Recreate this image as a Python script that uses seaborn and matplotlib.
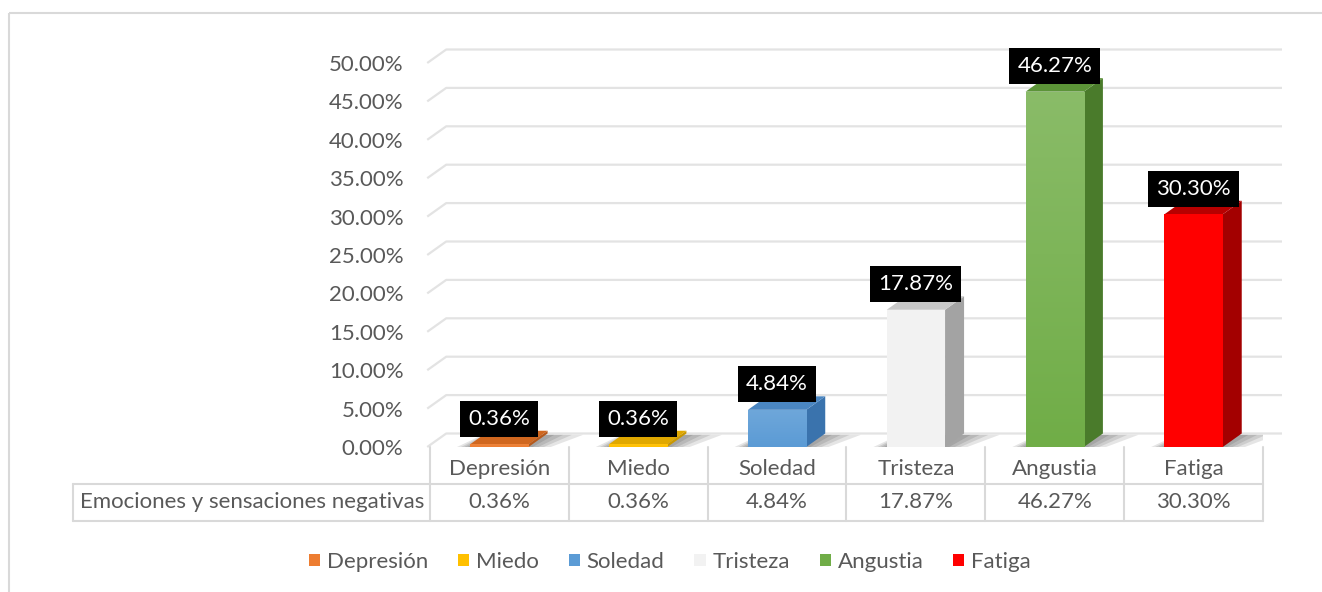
import numpy as np
import pandas as pd
import matplotlib
matplotlib.use('Agg')
import matplotlib.pyplot as plt
import matplotlib.transforms as mtransforms
from matplotlib.patches import Polygon, Rectangle, Patch
from matplotlib.colors import LinearSegmentedColormap, to_rgb
import seaborn as sns

# data
categories = ['Depresión', 'Miedo', 'Soledad', 'Tristeza', 'Angustia', 'Fatiga']
values = [0.36, 0.36, 4.84, 17.87, 46.27, 30.30]
row_label = 'Emociones y sensaciones negativas'
yticks = [0, 5, 10, 15, 20, 25, 30, 35, 40, 45, 50]

front_colors = ['#ED7D31', '#FFC000', '#5B9BD5', '#F2F2F2', '#70AD47', '#FF0000']
side_colors = ['#B5591C', '#C99700', '#3A73AD', '#A3A3A3', '#4A7B2B', '#A30000']
top_colors = ['#D0671F', '#E0A800', '#4A86C2', '#C8C8C8', '#5C9438', '#B80000']
grad_amount = [0.05, 0.05, 0.12, 0.0, 0.18, 0.0]

sns.set_theme(style='white')
plt.rcParams['font.family'] = ['Lato', 'DejaVu Sans']
text_color = '#595959'
grid_color = '#D9D9D9'
fs = 16

W, H = 1322, 592
fig = plt.figure(figsize=(W / 100, H / 100), dpi=100)
bg = fig.add_axes([0, 0, 1, 1], zorder=0)
bg.set_xlim(0, W)
bg.set_ylim(H, 0)
bg.axis('off')
bg.add_patch(Rectangle((9, 13), W, H, fill=False, ec=grid_color, lw=1.5))

ax_l, ax_r, ax_t, ax_b = 430, 1263, 63, 447
ax = fig.add_axes([ax_l / W, 1 - ax_b / H, (ax_r - ax_l) / W, (ax_b - ax_t) / H], zorder=1)
ax.patch.set_alpha(0)

df = pd.DataFrame({'cat': categories, 'val': values})
sns.barplot(data=df, x='cat', y='val', hue='cat', palette=front_colors, width=0.42,
            saturation=1, legend=False, ax=ax, zorder=4, edgecolor='none')

# 3d depth in data units
dx = 19 / ((ax_r - ax_l) / 6)
dy = 13.5 / ((ax_b - ax_t) / 50)
x_start = -0.5 - 0.02

for v in yticks:
    ax.plot([x_start, x_start + dx, 5.5 + dx], [v, v + dy, v + dy],
            color='#E3E3E3', lw=1.6, zorder=1, clip_on=False, solid_capstyle='butt')

for i, p in enumerate(ax.patches):
    x0 = p.get_x()
    x1 = x0 + p.get_width()
    v = p.get_height()
    # soft floor shadow
    for e in [0.16, 0.11, 0.07, 0.03]:
        ax.add_patch(Polygon([(x0 - e * 0.6, 0), (x1 + e, 0), (x1 + dx + e * 1.6, dy * 0.9),
                              (x0 + dx - e * 0.3, dy * 0.9)], closed=True,
                             fc='black', ec='none', alpha=0.10, zorder=2))
    # side face
    ax.add_patch(Polygon([(x1, 0), (x1 + dx, dy), (x1 + dx, v + dy), (x1, v)], closed=True,
                         fc=side_colors[i], ec='none', zorder=3, clip_on=False))
    # top face
    ax.add_patch(Polygon([(x0, v), (x0 + dx, v + dy), (x1 + dx, v + dy), (x1, v)], closed=True,
                         fc=top_colors[i], ec='none', zorder=3, clip_on=False))
    # front gradient
    if grad_amount[i] > 0:
        base = np.array(to_rgb(front_colors[i]))
        light = base + (1 - base) * grad_amount[i]
        cmap = LinearSegmentedColormap.from_list('g%d' % i, [base, light])
        im = ax.imshow(np.linspace(0, 1, 256).reshape(-1, 1), extent=[x0, x1, 0, v], origin='lower',
                       cmap=cmap, aspect='auto', zorder=5)
        im.set_clip_path(p)
    ax.annotate('{:.2f}%'.format(v), xy=(x0 + p.get_width() / 2, v), xytext=(0, 18.5),
                textcoords='offset points', ha='center', va='center', color='white', fontsize=fs,
                bbox=dict(boxstyle='square,pad=0.36', fc='black', ec='none'), zorder=8,
                annotation_clip=False)

ax.set_xlim(-0.5, 5.5)
ax.set_ylim(0, 50)
ax.set_yticks(yticks)
ax.set_yticklabels(['{:.2f}%'.format(t) for t in yticks])
ax.set_xticks([])
ax.set_xlabel('')
ax.set_ylabel('')
ax.tick_params(axis='y', length=0, pad=19, labelsize=fs, labelcolor=text_color)
for s in ax.spines.values():
    s.set_visible(False)

# data table
trans = mtransforms.blended_transform_factory(ax.transData, bg.transData)
for k in range(7):
    ax.plot([k - 0.5, k - 0.5], [447, 521], transform=trans, color=grid_color, lw=1.5, clip_on=False)
bg.plot([73, ax_r], [484, 484], color=grid_color, lw=1.5)
bg.plot([73, ax_r], [521, 521], color=grid_color, lw=1.5)
bg.plot([73, 73], [484, 521], color=grid_color, lw=1.5)
for i, (c, v) in enumerate(zip(categories, values)):
    ax.text(i, 469, c, transform=trans, ha='center', va='center', fontsize=fs, color=text_color)
    ax.text(i, 502, '{:.2f}%'.format(v), transform=trans, ha='center', va='center',
            fontsize=fs, color=text_color)
bg.text(80, 502, row_label, ha='left', va='center', fontsize=fs, color=text_color)

handles = [Patch(fc=c, ec='none') for c in front_colors]
fig.legend(handles, categories, loc='center', bbox_to_anchor=(670 / W, 1 - 562 / H), ncol=6,
           frameon=False, fontsize=fs, handlelength=0.5, handleheight=0.5, handletextpad=0.3,
           columnspacing=1.35, labelcolor=text_color)

fig.savefig('out.png', dpi=100)
